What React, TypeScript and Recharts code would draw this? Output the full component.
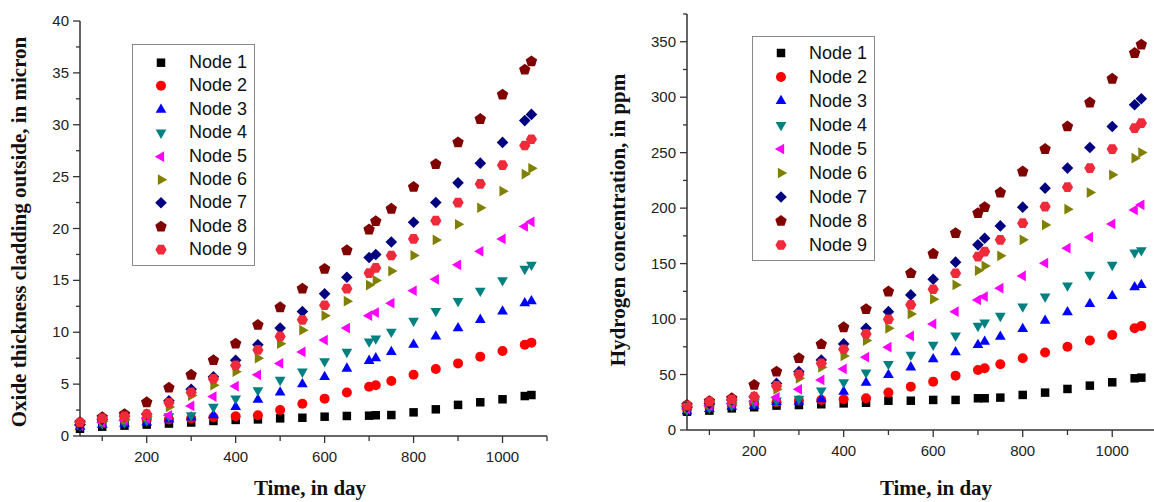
import React from "react";
import { ScatterChart, Scatter, XAxis, YAxis, Legend } from "recharts";

// sampling days (same for both panels)
const days = [50, 100, 150, 200, 250, 300, 350, 400, 450, 500, 550, 600, 650, 700, 715, 750, 800, 850, 900, 950, 1000, 1050, 1065];

const nodeNames = ["Node 1", "Node 2", "Node 3", "Node 4", "Node 5", "Node 6", "Node 7", "Node 8", "Node 9"];
const nodeColors = ["#000000", "#ff0000", "#0000ff", "#008080", "#ff00ff", "#808000", "#000080", "#800000", "#ef2a3a"];
const nodeShapes = ["square", "circle", "up", "down", "left", "right", "diamond", "pentagon", "hexagon"];

// oxide thickness, micron
const oxide1 = [0.7, 0.9, 1.0, 1.1, 1.2, 1.3, 1.45, 1.55, 1.6, 1.7, 1.76, 1.86, 1.93, 1.96, 2.0, 2.02, 2.28, 2.57, 3.0, 3.25, 3.54, 3.85, 3.95];
const oxide2 = [1.3, 1.5, 1.6, 1.6, 1.6, 1.7, 1.8, 1.9, 2.0, 2.5, 3.1, 3.6, 4.2, 4.75, 4.9, 5.3, 5.9, 6.45, 7.0, 7.65, 8.2, 8.8, 9.0];
const oxide3 = [0.9, 1.1, 1.2, 1.3, 1.6, 1.8, 2.0, 2.8, 3.5, 4.2, 5.0, 5.7, 6.5, 7.25, 7.5, 8.1, 8.8, 9.6, 10.4, 11.2, 12.0, 12.8, 13.0];
const oxide4 = [1.0, 1.2, 1.3, 1.5, 1.9, 2.0, 2.8, 3.6, 4.4, 5.4, 6.2, 7.2, 8.1, 9.1, 9.4, 10.05, 11.1, 12.05, 13.0, 14.0, 15.0, 16.1, 16.5];
const oxide5 = [1.0, 1.3, 1.5, 1.7, 2.0, 2.9, 3.8, 4.8, 5.9, 7.0, 8.1, 9.25, 10.4, 11.6, 11.9, 12.8, 14.0, 15.1, 16.5, 17.8, 19.0, 20.2, 20.65];
const oxide6 = [1.1, 1.4, 1.6, 1.9, 2.8, 3.9, 4.9, 6.2, 7.5, 8.9, 10.2, 11.6, 13.0, 14.55, 15.0, 15.9, 17.4, 18.9, 20.4, 22.0, 23.6, 25.25, 25.8];
const oxide7 = [1.1, 1.6, 1.9, 2.1, 3.4, 4.5, 5.7, 7.3, 8.8, 10.4, 12.0, 13.7, 15.3, 17.2, 17.5, 18.7, 20.6, 22.5, 24.4, 26.3, 28.3, 30.4, 31.0];
const oxide8 = [1.3, 1.8, 2.1, 3.25, 4.65, 5.9, 7.3, 8.9, 10.7, 12.4, 14.2, 16.1, 17.9, 19.9, 20.7, 21.9, 24.0, 26.2, 28.3, 30.55, 32.9, 35.3, 36.1];
const oxide9 = [1.3, 1.7, 1.9, 2.1, 3.2, 4.2, 5.5, 6.8, 8.3, 9.6, 11.2, 12.6, 14.2, 15.7, 16.2, 17.4, 19.0, 20.75, 22.5, 24.3, 26.1, 28.0, 28.6];

// hydrogen concentration, ppm
const hydro1 = [16.5, 17.5, 19.5, 20.5, 22, 22.5, 23.2, 24, 24.6, 26.4, 26.4, 27.1, 27.1, 28.6, 28.6, 29.2, 31.6, 33.7, 37, 40, 43, 46.6, 47.2];
const hydro2 = [19, 21, 23, 24, 25, 26.5, 27, 27.7, 28.6, 33.7, 39.1, 43.6, 49, 54.1, 55.6, 59.2, 64.7, 69.8, 75.1, 80.6, 85.7, 91.7, 93.8];
const hydro3 = [17, 19, 21, 22, 25.3, 25.6, 27.7, 34.6, 42.7, 49.6, 56.5, 63.8, 70.1, 76.7, 79.7, 84.2, 91.1, 98.6, 106.2, 113.7, 120.9, 128.7, 130.8];
const hydro4 = [18, 20, 22, 24, 26.6, 28, 35.5, 43, 51.7, 59.5, 67.7, 76.7, 85.1, 93.8, 96.8, 102.8, 111.2, 120.2, 130.2, 139.8, 148.8, 160, 162];
const hydro5 = [19, 22, 24, 26, 29.5, 36.7, 45.1, 55, 65.6, 74.6, 84.8, 95.6, 106.7, 117.3, 120.2, 127.8, 138.9, 150.4, 163.9, 173.8, 185.8, 198.4, 203];
const hydro6 = [20, 23, 25, 28, 36.7, 46.6, 56.5, 66.8, 80.6, 91.7, 104.6, 117.9, 130.8, 143.7, 147.9, 157, 171.4, 184.9, 199.1, 214, 230, 245, 250.1];
const hydro7 = [21, 24, 27, 30, 42, 52.6, 63.1, 77.6, 91.7, 106.7, 121.8, 135.9, 151.3, 166.9, 172.9, 184, 200.9, 218, 236.1, 254.6, 273.6, 293.2, 298.6];
const hydro8 = [22.5, 26, 28.6, 40.6, 52.6, 64.7, 77.3, 92.6, 108.9, 124.8, 141.3, 158.8, 177.4, 195.5, 200.9, 214, 233, 253.2, 273.6, 295.2, 316.6, 339.8, 347.3];
const hydro9 = [22, 25.5, 27.5, 30, 39.7, 50.2, 60.1, 72.8, 86.6, 99.8, 112.8, 126.9, 141.3, 156.3, 160.8, 171.4, 186.4, 201.4, 218.9, 236.1, 253.2, 272.1, 276.6];

const oxideSeries = [oxide1, oxide2, oxide3, oxide4, oxide5, oxide6, oxide7, oxide8, oxide9];
const hydroSeries = [hydro1, hydro2, hydro3, hydro4, hydro5, hydro6, hydro7, hydro8, hydro9];

const xTicks = [100, 200, 300, 400, 500, 600, 700, 800, 900, 1000, 1100];
const xLabels = [200, 400, 600, 800, 1000];
const oxideTicks = [0, 2.5, 5, 7.5, 10, 12.5, 15, 17.5, 20, 22.5, 25, 27.5, 30, 32.5, 35, 37.5, 40];
const oxideLabels = [0, 5, 10, 15, 20, 25, 30, 35, 40];
const hydroTicks = [0, 25, 50, 75, 100, 125, 150, 175, 200, 225, 250, 275, 300, 325, 350, 375];
const hydroLabels = [0, 50, 100, 150, 200, 250, 300, 350];

const AXIS = "#333";
const SANS = "'Liberation Sans', Arial, sans-serif";
const SERIF = "'Liberation Serif', 'Times New Roman', serif";

function polygon(cx: number, cy: number, r: number, n: number, start: number) {
  const pts: string[] = [];
  for (let i = 0; i < n; i++) {
    const a = ((start + (360 / n) * i) * Math.PI) / 180;
    pts.push(`${(cx + r * Math.cos(a)).toFixed(2)},${(cy + r * Math.sin(a)).toFixed(2)}`);
  }
  return pts.join(" ");
}

function Marker({ kind, cx, cy, color }: { kind: string; cx: number; cy: number; color: string }) {
  if (kind === "circle") return <circle cx={cx} cy={cy} r={5} fill={color} />;
  const spec: Record<string, [number, number, number]> = {
    square: [6, 4, 45],
    up: [6.2, 3, -90],
    down: [6.2, 3, 90],
    left: [6.2, 3, 180],
    right: [6.2, 3, 0],
    diamond: [5.8, 4, -90],
    pentagon: [6, 5, -90],
    hexagon: [5.6, 6, 0],
  };
  const [r, n, s] = spec[kind];
  return <polygon points={polygon(cx, cy, r, n, s)} fill={color} />;
}

function makeShape(kind: string, color: string) {
  return (props: any) => <Marker kind={kind} cx={props.cx} cy={props.cy} color={color} />;
}

function XTick(props: any) {
  const { x, y, payload } = props;
  const major = xLabels.includes(payload.value);
  return (
    <g>
      <line x1={x} x2={x} y1={y} y2={y + (major ? 7 : 5)} stroke={AXIS} strokeWidth={1.3} />
      {major && (
        <text x={x} y={y + 26} textAnchor="middle" fontSize={15} fontFamily={SANS} fill="#222">
          {payload.value}
        </text>
      )}
    </g>
  );
}

function makeYTick(labels: number[]) {
  return (props: any) => {
    const { x, y, payload } = props;
    const major = labels.includes(payload.value);
    return (
      <g>
        <line x1={x - (major ? 7 : 4)} x2={x} y1={y} y2={y} stroke={AXIS} strokeWidth={1.3} />
        {major && (
          <text x={x - 11} y={y + 5} textAnchor="end" fontSize={15} fontFamily={SANS} fill="#222">
            {payload.value}
          </text>
        )}
      </g>
    );
  };
}

// axis title at a fixed spot; tx/ty so the Label's own x/y do not override it
function AxisTitle({ tx, ty, text, rotate }: { tx: number; ty: number; text: string; rotate?: boolean }) {
  return (
    <text
      x={tx}
      y={ty}
      textAnchor="middle"
      fontSize={21}
      fontWeight="bold"
      fontFamily={SERIF}
      fill="#111"
      transform={rotate ? `rotate(-90, ${tx}, ${ty})` : undefined}
    >
      {text}
    </text>
  );
}

function LegendBox({ rowH, padTop }: { rowH: number; padTop: number }) {
  return (
    <div
      style={{
        border: "1px solid #8a8a8a",
        background: "#fff",
        paddingTop: padTop,
        paddingBottom: 3,
        boxSizing: "border-box",
        width: 123,
      }}
    >
      {nodeNames.map((name, i) => (
        <div key={name} style={{ display: "flex", alignItems: "center", height: rowH }}>
          <svg width={56} height={rowH} style={{ flex: "none" }}>
            <Marker kind={nodeShapes[i]} cx={28} cy={rowH / 2} color={nodeColors[i]} />
          </svg>
          <span style={{ fontFamily: SANS, fontSize: 18, color: "#111", lineHeight: `${rowH}px` }}>{name}</span>
        </div>
      ))}
    </div>
  );
}

function toPoints(values: number[]) {
  return days.map((d, i) => ({ x: d, y: values[i] }));
}

export default function App() {
  return (
    <div style={{ position: "absolute", left: 0, top: 0, width: 1154, height: 502, background: "#fff", display: "flex" }}>
      <ScatterChart width={570} height={502} margin={{ top: 21, right: 23, bottom: 6, left: 0 }}>
        <XAxis
          type="number"
          dataKey="x"
          domain={[50, 1100]}
          ticks={xTicks}
          interval={0}
          tickSize={0}
          tickMargin={0}
          tickLine={false}
          tick={XTick}
          height={60}
          axisLine={{ stroke: AXIS, strokeWidth: 1.5 }}
          label={() => <AxisTitle tx={310} ty={495} text="Time, in day" />}
        />
        <YAxis
          type="number"
          dataKey="y"
          domain={[0, 40]}
          ticks={oxideTicks}
          interval={0}
          tickSize={0}
          tickMargin={0}
          tickLine={false}
          tick={makeYTick(oxideLabels)}
          width={80}
          axisLine={{ stroke: AXIS, strokeWidth: 1.5 }}
          label={() => <AxisTitle tx={26} ty={232} rotate text="Oxide thickness cladding outside, in micron" />}
        />
        <Legend
          layout="vertical"
          align="center"
          verticalAlign="middle"
          wrapperStyle={{ left: 132, top: 44, width: 123 }}
          content={() => <LegendBox rowH={23.4} padTop={6} />}
        />
        {oxideSeries.map((vals, i) => (
          <Scatter
            key={nodeNames[i]}
            name={nodeNames[i]}
            data={toPoints(vals)}
            fill={nodeColors[i]}
            shape={makeShape(nodeShapes[i], nodeColors[i])}
            isAnimationActive={false}
          />
        ))}
      </ScatterChart>
      <ScatterChart width={584} height={502} margin={{ top: 14, right: -3, bottom: 12, left: 0 }}>
        <XAxis
          type="number"
          dataKey="x"
          domain={[50, 1100]}
          ticks={xTicks}
          interval={0}
          tickSize={0}
          tickMargin={0}
          tickLine={false}
          tick={XTick}
          height={60}
          axisLine={{ stroke: AXIS, strokeWidth: 1.5 }}
          label={() => <AxisTitle tx={366} ty={495} text="Time, in day" />}
        />
        <YAxis
          type="number"
          dataKey="y"
          domain={[0, 375]}
          ticks={hydroTicks}
          interval={0}
          tickSize={0}
          tickMargin={0}
          tickLine={false}
          tick={makeYTick(hydroLabels)}
          width={117}
          axisLine={{ stroke: AXIS, strokeWidth: 1.5 }}
          label={() => <AxisTitle tx={55} ty={220} rotate text="Hydrogen concentration, in ppm" />}
        />
        <Legend
          layout="vertical"
          align="center"
          verticalAlign="middle"
          wrapperStyle={{ left: 182, top: 36, width: 123 }}
          content={() => <LegendBox rowH={24} padTop={4} />}
        />
        {hydroSeries.map((vals, i) => (
          <Scatter
            key={nodeNames[i]}
            name={nodeNames[i]}
            data={toPoints(vals)}
            fill={nodeColors[i]}
            shape={makeShape(nodeShapes[i], nodeColors[i])}
            isAnimationActive={false}
          />
        ))}
      </ScatterChart>
    </div>
  );
}
